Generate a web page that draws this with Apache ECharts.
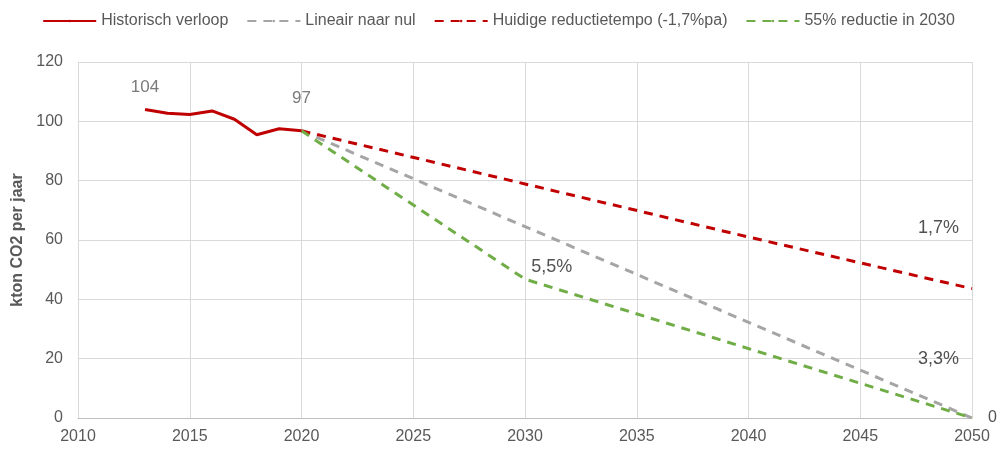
<!DOCTYPE html>
<html>
<head>
<meta charset="utf-8">
<script src="https://cdn.jsdelivr.net/npm/echarts@6/dist/echarts.min.js"></script>
<style>
  html, body { margin: 0; padding: 0; background: #fff; }
  #main { width: 997px; height: 450px; }
</style>
</head>
<body>
<div id="main"></div>
<script>
// historical emissions (kton CO2 per year)
var histYears = [2013, 2014, 2015, 2016, 2017, 2018, 2019, 2020];
var histValues = [104.0, 102.7, 102.3, 103.5, 100.7, 95.5, 97.5, 96.8];

// scenarios
var linYears = [2020, 2050];
var linValues = [96.8, 0];
var currentYears = [2020, 2030, 2040, 2050];
var currentValues = [96.8, 78.9, 61.0, 43.6];
var greenYears = [2020, 2030, 2050];
var greenValues = [96.8, 46.8, 0];

// text labels in the chart: [year, value, text]
var notes = [
  [2013, 104.0, '104'],
  [2020, 96.8, '97'],
  [2031.2, 51, '5,5%'],
  [2048.5, 64, '1,7%'],
  [2048.5, 20, '3,3%'],
  [2050, 0, '0']
];

var seriesNames = ['Historisch verloop', 'Lineair naar nul', 'Huidige reductietempo (-1,7%pa)', '55% reductie in 2030'];

function pairs(xs, ys) {
  return xs.map(function (x, i) { return [x, ys[i]]; });
}

window.onload = function () {
  var mychart = echarts.init(document.getElementById('main'));
  var txt = '#595959';
  var font = 'Liberation Sans';

  var option = {
    animation: false,
    textStyle: { fontFamily: font },
    legend: {
      top: 8,
      left: 'center',
      itemWidth: 53,
      itemHeight: 3,
      itemGap: 18,
      textStyle: { color: txt, fontSize: 16, fontFamily: font },
      data: seriesNames
    },
    grid: { left: 78, right: 25, top: 62, bottom: 32 },
    xAxis: {
      type: 'value',
      min: 2010, max: 2050, interval: 5,
      axisLine: { lineStyle: { color: '#BFBFBF', width: 1 } },
      axisTick: { show: false },
      axisLabel: { color: txt, fontSize: 16, margin: 11, formatter: function (v) { return String(v); } },
      splitLine: { show: true, lineStyle: { color: '#D9D9D9' } }
    },
    yAxis: {
      type: 'value',
      min: 0, max: 120, interval: 20,
      name: 'kton CO2 per jaar',
      nameLocation: 'middle',
      nameGap: 52,
      nameTextStyle: { color: txt, fontSize: 16, fontWeight: 'bold' },
      axisLine: { show: false },
      axisTick: { show: false },
      axisLabel: { color: txt, fontSize: 16, margin: 15 },
      splitLine: { lineStyle: { color: '#D9D9D9' } }
    },
    series: [
      {
        name: seriesNames[0], type: 'line', symbol: 'none', z: 5,
        data: pairs(histYears, histValues),
        lineStyle: { color: '#C00000', width: 3 },
        itemStyle: { color: '#C00000' }
      },
      {
        name: seriesNames[1], type: 'line', symbol: 'none',
        data: pairs(linYears, linValues),
        lineStyle: { color: '#A5A5A5', width: 3, type: [9, 7] },
        itemStyle: { color: '#A5A5A5' }
      },
      {
        name: seriesNames[2], type: 'line', symbol: 'none',
        data: pairs(currentYears, currentValues),
        lineStyle: { color: '#C00000', width: 3, type: [9, 7] },
        itemStyle: { color: '#C00000' }
      },
      {
        name: seriesNames[3], type: 'line', symbol: 'none',
        data: pairs(greenYears, greenValues),
        lineStyle: { color: '#70AD47', width: 3, type: [9, 7] },
        itemStyle: { color: '#70AD47' }
      },
      {
        name: 'labels', type: 'scatter', symbolSize: 0, silent: true,
        data: notes.map(function (n, i) {
          var lbl = { show: true, formatter: n[2], color: '#262626', fontSize: 18, fontFamily: font };
          if (i === 0) { lbl.position = 'top'; lbl.distance = 14; lbl.color = txt; lbl.fontSize = 17; }
          else if (i === 1) { lbl.position = 'top'; lbl.distance = 24; lbl.color = txt; lbl.fontSize = 17; }
          else if (i === 5) { lbl.position = 'right'; lbl.distance = 16; lbl.fontSize = 16; }
          else { lbl.position = 'inside'; }
          return { value: [n[0], n[1]], label: lbl };
        })
      }
    ]
  };
  mychart.setOption(option);
};
</script>
</body>
</html>
